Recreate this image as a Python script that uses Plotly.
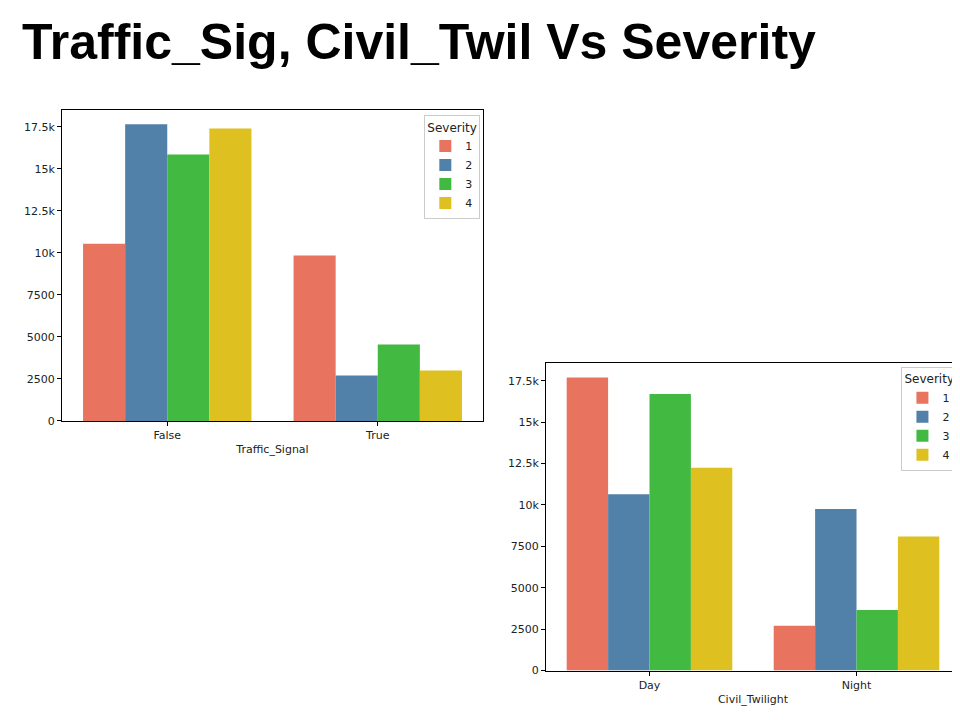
import plotly.graph_objects as go

severities = ["1", "2", "3", "4"]
colors = ["#E8735F", "#5181A8", "#42BA41", "#DEC120"]

signal_cats = ["False", "True"]
signal_vals = {
    "1": [10550, 9850],
    "2": [17650, 2700],
    "3": [15850, 4550],
    "4": [17400, 3000],
}

twilight_cats = ["Day", "Night"]
twilight_vals = {
    "1": [17700, 2700],
    "2": [10650, 9750],
    "3": [16700, 3650],
    "4": [12250, 8100],
}

fig = go.Figure()
for s, c in zip(severities, colors):
    fig.add_trace(go.Bar(x=signal_cats, y=signal_vals[s], name=s, marker_color=c,
                         marker_line_width=0, xaxis="x", yaxis="y", legend="legend"))
for s, c in zip(severities, colors):
    fig.add_trace(go.Bar(x=twilight_cats, y=twilight_vals[s], name=s, marker_color=c,
                         marker_line_width=0, xaxis="x2", yaxis="y2", legend="legend2"))

axis_style = dict(showline=True, linecolor="black", linewidth=1, mirror=True,
                  showgrid=False, ticks="outside", ticklen=4, tickcolor="black",
                  tickfont=dict(size=11, color="#222"), zeroline=False)

legend_style = dict(title=dict(text="Severity", font=dict(size=12)), font=dict(size=11),
                    bgcolor="white", bordercolor="#ccc", borderwidth=1,
                    xanchor="right", yanchor="top", itemwidth=30)

fig.update_layout(
    width=960, height=720, margin=dict(l=0, r=0, t=0, b=0),
    paper_bgcolor="white", plot_bgcolor="white",
    barmode="group", bargap=0.2, bargroupgap=0,
    font=dict(family="DejaVu Sans", color="#222"),
    xaxis=dict(domain=[0.05625, 0.4948], anchor="y",
               title=dict(text="Traffic_Signal", font=dict(size=11), standoff=4), **axis_style),
    yaxis=dict(domain=[0.4208, 0.8569], anchor="x", range=[0, 18500],
               tickvals=[0, 2500, 5000, 7500, 10000, 12500, 15000, 17500], **axis_style),
    xaxis2=dict(domain=[0.5604, 0.9917], anchor="y2",
                title=dict(text="Civil_Twilight", font=dict(size=11), standoff=4), **axis_style),
    yaxis2=dict(domain=[0.0708, 0.5028], anchor="x2", range=[0, 18600],
                tickvals=[0, 2500, 5000, 7500, 10000, 12500, 15000, 17500], **axis_style),
    legend=dict(x=0.492, y=0.85, **legend_style),
    legend2=dict(x=0.989, y=0.497, **legend_style),
    annotations=[dict(text="<b>Traffic_Sig, Civil_Twil Vs Severity</b>", x=0.012, y=0.995,
                      xref="paper", yref="paper", xanchor="left", yanchor="top",
                      showarrow=False, font=dict(size=50, family="Liberation Sans", color="black"))],
)

fig.write_html("out.html")
